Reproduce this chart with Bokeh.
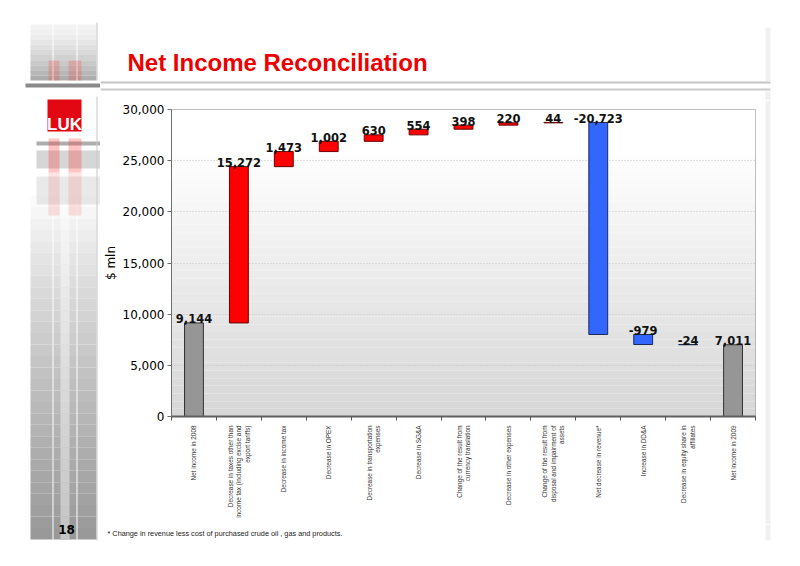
import numpy as np
from bokeh.plotting import figure
from bokeh.layouts import row, column
from bokeh.models import FixedTicker, NumeralTickFormatter, ColumnDataSource, Range1d
from bokeh.core.properties import value
from bokeh.embed import file_html
from bokeh.resources import INLINE

# ---------------- data ----------------
categories = [
    "Net income in 2008",
    "Decrease in taxes other than\nincome tax (including excise and\nexport tariffs)",
    "Decrease in income tax",
    "Decrease in OPEX",
    "Decrease in transportation\nexpenses",
    "Decrease in SG&A",
    "Change of the result from\ncurrency translation",
    "Decrease in other expenses",
    "Change of the result from\ndisposal and impairment of\nassets",
    "Net decrease in revenue*",
    "Increase in DD&A",
    "Decrease in equity share in\naffiliates",
    "Net income in 2009",
]
changes = [9144, 15272, 1473, 1002, 630, 554, 398, 220, 44, -20723, -979, -24, 7011]
kinds = ["total", "up", "up", "up", "up", "up", "up", "up", "up",
         "down", "down", "down", "total"]
y_ticks = [0, 5000, 10000, 15000, 20000, 25000, 30000]

title_text = "Net Income Reconciliation"
footnote_text = "*  Change in revenue  less  cost of purchased crude oil , gas and products."
page_number = "18"

# ---------------- waterfall geometry ----------------
fill_map = {"total": "#969696", "up": "#ff0000", "down": "#3366ff"}
line_map = {"total": "#333333", "up": "#6a0000", "down": "#1a2a5a"}
xs, lows, highs, fills, lines, labels = [], [], [], [], [], []
running = 0
for i, (v, k) in enumerate(zip(changes, kinds)):
    if k == "total":
        b, t = 0, v
        running = v
    else:
        b = running
        running = running + v
        t = running
    xs.append(i + 1)
    lows.append(min(b, t))
    highs.append(max(b, t))
    fills.append(fill_map[k])
    lines.append(line_map[k])
    labels.append(f"{v:,}")

src = ColumnDataSource(dict(x=xs, low=lows, high=highs, fill=fills, line=lines, label=labels))

# ---------------- page layout (page pixels) ----------------
W, H = 800, 566
LEFT_W = 100          # left decoration strip
RIGHT_X = 765         # right decoration strip starts
TOP_H = 100           # title band
FOOT_Y = 524          # footnote band starts
FL, FR, FT, FB = 168, 755, 109, 416   # chart frame edges on the page

MAIN_W = RIGHT_X - LEFT_W
MAIN_H = FOOT_Y - TOP_H


def no_align(f):
    if "frame_align" in f.properties():
        f.frame_align = False
    return f


p = figure(width=MAIN_W, height=MAIN_H, x_range=Range1d(0.5, len(categories) + 0.5),
           y_range=Range1d(0, 30000), output_backend="svg", toolbar_location=None,
           min_border_left=FL - LEFT_W, min_border_right=RIGHT_X - FR,
           min_border_top=FT - TOP_H, min_border_bottom=FOOT_Y - FB,
           background_fill_color="white", border_fill_color="white",
           outline_line_color="#a8a8a8")
no_align(p)

# frame gradient (white at top, light grey at bottom)
nb = 40
edges = np.linspace(0, 30000, nb + 1)
cols = []
for j in range(nb):
    f = (j + 0.5) / nb
    g = int(round(0xd6 + (0xff - 0xd6) * min(1.0, f * 1.15)))
    cols.append("#%02x%02x%02x" % (g, g, g))
p.quad(left=0.5, right=len(categories) + 0.5, bottom=edges[:-1], top=edges[1:],
       fill_color=cols, line_color=None, level="image")

p.vbar(x="x", bottom="low", top="high", width=0.42, source=src,
       fill_color="fill", line_color="line", line_width=1)
p.text(x="x", y="high", text="label", source=src, text_align="center",
       text_baseline="alphabetic", y_offset=-4, text_font=value("DejaVu Sans"),
       text_font_style="bold", text_font_size="11.5px", text_color="#111111")

# grid
p.xgrid.grid_line_color = None
p.ygrid.ticker = FixedTicker(ticks=y_ticks)
p.ygrid.grid_line_color = "#c4c4c4"
p.ygrid.grid_line_dash = "1 2"
p.ygrid.grid_line_width = 1

# y axis
ya = p.yaxis[0]
ya.ticker = FixedTicker(ticks=y_ticks)
ya.formatter = NumeralTickFormatter(format="0,0")
ya.major_label_text_font = "DejaVu Sans"
ya.major_label_text_font_size = "12px"
ya.major_label_text_color = "#000000"
ya.major_tick_out = 4
ya.major_tick_in = 0
ya.minor_tick_out = 0
ya.minor_tick_in = 0
ya.major_label_standoff = 3
ya.axis_line_color = "#707070"
ya.major_tick_line_color = "#707070"
ya.axis_label = "$ mln"
ya.axis_label_text_font = "DejaVu Sans"
ya.axis_label_text_font_size = "12px"
ya.axis_label_text_font_style = "normal"
ya.axis_label_text_color = "#000000"
ya.axis_label_standoff = 2

# x axis: labels at centres, ticks at boundaries
xa = p.xaxis[0]
xa.ticker = FixedTicker(ticks=xs, minor_ticks=[i + 0.5 for i in range(len(categories) + 1)])
xa.major_label_overrides = {i + 1: c for i, c in enumerate(categories)}
xa.major_label_orientation = np.pi / 2
xa.major_label_text_font = "Liberation Sans"
xa.major_label_text_font_size = "6.4px"
xa.major_label_text_color = "#333333"
xa.major_label_standoff = 5
xa.major_tick_out = 0
xa.major_tick_in = 0
xa.minor_tick_out = 4
xa.minor_tick_in = 0
xa.minor_tick_line_color = "#555555"
xa.axis_line_color = "#606060"
xa.axis_line_width = 2


# ---------------- decoration figures (page-pixel coordinates) ----------------
def deco_fig(x0, x1, y0, y1):
    f = figure(width=x1 - x0, height=y1 - y0, x_range=Range1d(x0, x1),
               y_range=Range1d(y1, y0), min_border=0, toolbar_location=None,
               output_backend="svg", x_axis_location=None, y_axis_location=None,
               outline_line_color=None, background_fill_color="white",
               border_fill_color="white")
    f.grid.visible = False
    return no_align(f)


def rect(f, x0, x1, y0, y1, color, alpha=1.0):
    f.quad(left=x0, right=x1, top=y0, bottom=y1, fill_color=color,
           fill_alpha=alpha, line_color=None)


def grey(g):
    g = int(round(max(0, min(255, g))))
    return "#%02x%02x%02x" % (g, g, g)


# left strip: stripes, logo, page number
lf = deco_fig(0, LEFT_W, 0, H)
stripes = [(30, 52), (53, 76), (77, 96)]
nbands = 30
ys = np.linspace(195, 539, nbands + 1)
for (x0, x1) in stripes:
    for j in range(nbands):
        f = (j + 0.5) / nbands
        rect(lf, x0, x1, ys[j], ys[j + 1], grey(0xff - (0xff - 0x98) * f ** 0.8))
for j in range(nbands):
    f = (j + 0.5) / nbands
    rect(lf, 60, 69, ys[j], ys[j + 1], grey(0xff - (0xff - 0xc4) * f ** 0.8))
ys2 = np.linspace(24, 80, 12)
for (x0, x1) in stripes:
    for j in range(11):
        f = (j + 0.5) / 11
        rect(lf, x0, x1, ys2[j], ys2[j + 1], grey(0xf4 - (0xf4 - 0xa8) * f ** 1.5))
for (y0, y1, c, a) in [(141, 145, "#8c8c8c", 0.7), (150, 168, "#b4b4b4", 0.55),
                       (176, 204, "#d4d4d4", 0.5)]:
    rect(lf, 36, 100, y0, y1, c, a)
for (y0, y1, a) in [(60, 80, 0.22), (138, 172, 0.28), (172, 215, 0.14)]:
    rect(lf, 48, 59, y0, y1, "#ff3030", a)
    rect(lf, 68, 81, y0, y1, "#ff3030", a)
rect(lf, 25, 100, 83, 87, "#8a8a8a")
rect(lf, 96, 97, 22, 80, "#c8c8c8")
rect(lf, 96, 97, 96, 540, "#c8c8c8")
# logo
rect(lf, 47, 81, 99, 131, "#e30613")
lf.text(x=[64], y=[124], text=["LUK"], text_align="center", text_baseline="alphabetic",
        text_font=value("Liberation Sans"), text_font_style="bold",
        text_font_size="17px", text_color="white")
lf.text(x=[66], y=[529], text=[page_number], text_align="center",
        text_baseline="alphabetic", text_font=value("DejaVu Sans"),
        text_font_style="bold", text_font_size="12px", text_color="#000000")

# title band
tf = deco_fig(LEFT_W, W, 0, TOP_H)
rect(tf, 100, 770, 81, 83, "#c4c4c4")
rect(tf, 100, 770, 88, 90, "#cacaca")
rect(tf, 765, 770, 27, 81, "#f0f0f0")
rect(tf, 765, 770, 91, 100, "#f0f0f0")
tf.text(x=[127], y=[62], text=[title_text], text_align="left", text_baseline="alphabetic",
        text_font=value("Liberation Sans"), text_font_style="bold",
        text_font_size="24px", text_color="#ee0000")

# right strip beside the chart
rf = deco_fig(RIGHT_X, W, TOP_H, FOOT_Y)
rect(rf, 765, 770, TOP_H, FOOT_Y, "#f0f0f0")

# footnote band
ff = deco_fig(LEFT_W, W, FOOT_Y, H)
rect(ff, 765, 770, FOOT_Y, 540, "#f0f0f0")
ff.text(x=[107], y=[533], text=[footnote_text], text_align="left",
        text_baseline="alphabetic", text_font=value("Liberation Sans"),
        text_font_size="7.3px", text_color="#222222")

layout = row(lf, column(tf, row(p, rf), ff))
open("out.html", "w").write(file_html(layout, INLINE))
